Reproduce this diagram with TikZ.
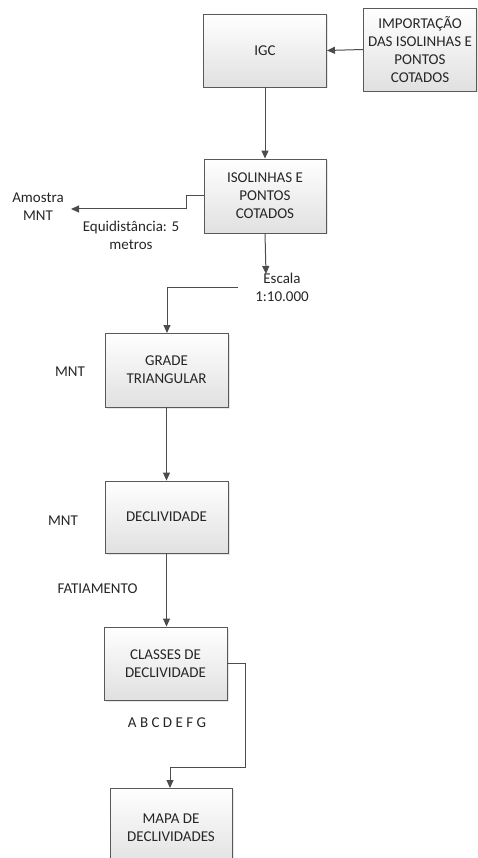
\documentclass[tikz,border=0pt]{standalone}
\usepackage{fontspec}
\setmainfont{Carlito}
\usepackage{xcolor}
\usetikzlibrary{arrows.meta, shadows}
\tikzset{>={Triangle[length=8pt,width=7pt]}}
\tikzset{
  box/.style={draw=black!65, line width=0.9pt, top color=white, bottom color=black!12,
    drop shadow={opacity=0.2, shadow xshift=1.5pt, shadow yshift=-1.5pt},
    minimum width=123, minimum height=73, align=center, inner sep=0pt, text=black!85},
  lbl/.style={align=center, text=black!85, inner sep=1pt},
  conn/.style={draw=black!70, line width=1pt}
}

\begin{document}
\begin{tikzpicture}[x=1pt, y=-1pt, font=\fontsize{15}{18}\selectfont]
\useasboundingbox (0,0) rectangle (478,858);
\node[box] (igc) at (265,50.5) {IGC};
\node[box, minimum width=113, minimum height=83] (imp) at (420,49.5) {IMPORTAÇÃO\\DAS ISOLINHAS E\\PONTOS\\COTADOS};
\node[box, minimum width=122, minimum height=74] (iso) at (265,196) {ISOLINHAS E\\PONTOS\\COTADOS};
\node[box, minimum height=74] (grade) at (166.5,370) {GRADE\\TRIANGULAR};
\node[box, minimum height=72] (decl) at (166.5,517) {DECLIVIDADE};
\node[box] (classes) at (165.5,663.5) {CLASSES DE\\DECLIVIDADE};
\node[box, minimum width=122, minimum height=80] (mapa) at (171,828) {MAPA DE\\DECLIVIDADES};

\node[lbl] (amostra) at (38,207) {Amostra\\MNT};
\node[lbl] (equi) at (131,235) {Equidistância: 5\\metros};
\node[lbl] (escala) at (282,287) {Escala\\1:10.000};
\node[lbl] (mnt1) at (70,372) {MNT};
\node[lbl] (mnt2) at (63,521) {MNT};
\node[lbl] (fat) at (97.5,589) {FATIAMENTO};
\node[lbl] (abc) at (167,723) {A B C D E F G};

\coordinate (amostra-tip) at (71,209);
\coordinate (escala-l) at (238,287);

\draw[conn,->] (imp.west) -- (igc.east);
\draw[conn,->] (igc.south) -- (iso.north);
\draw[conn,->] (iso.west) -- (186,196) -- (186,209) -- (amostra-tip);
\draw[conn,->] (iso.south) -- (266,274);
\draw[conn,->] (escala-l) -- (167,287) -- (167,333);
\draw[conn,->] (grade.south) -- (decl.north);
\draw[conn,->] (decl.south) -- (classes.north -| decl.south);
\draw[conn,->] (classes.east) -- (245,663.5) -- (245,767) -- (170,767) -- (170,788);
\end{tikzpicture}
\end{document}
